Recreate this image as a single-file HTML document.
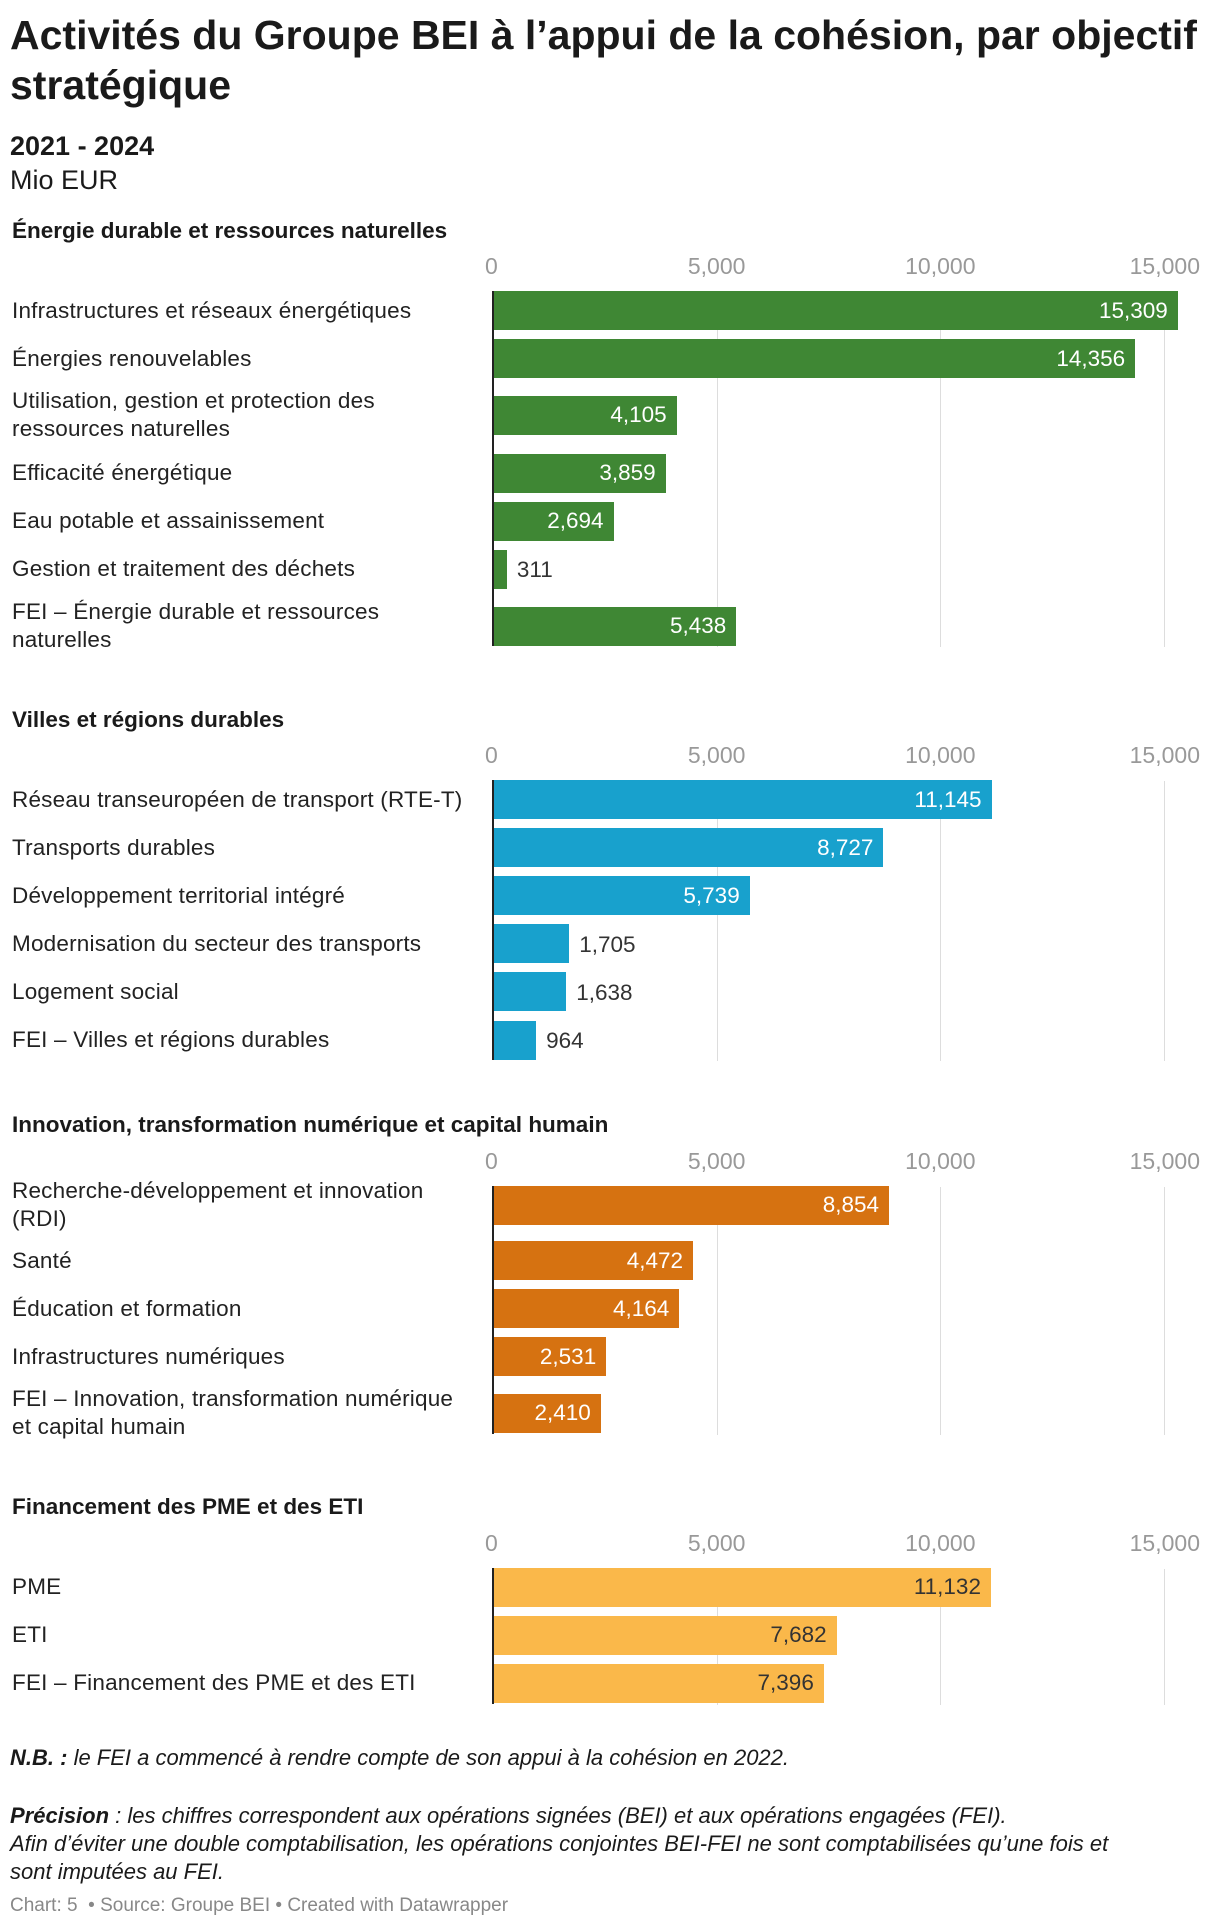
<!DOCTYPE html>
<html><head><meta charset="utf-8">
<style>
body{margin:0;background:#fff;}
#c{position:relative;width:1220px;height:1928px;font-family:"Liberation Sans",sans-serif;color:#1a1a1a;overflow:hidden}
.a{position:absolute;white-space:nowrap}
</style></head><body>
<div id="c">
<div class="a" style="left:10px;top:10px;font-size:41px;font-weight:bold;line-height:50px;letter-spacing:0px;white-space:normal;width:1210px">Activités du Groupe BEI à l’appui de la cohésion, par objectif stratégique</div>
<div class="a" style="left:10px;top:131px;font-size:27px;font-weight:bold">2021 - 2024</div>
<div class="a" style="left:10px;top:165px;font-size:27px">Mio EUR</div>
<div class="a" style="left:10px;top:1745px;font-size:22px;font-style:italic"><b>N.B. :</b> le FEI a commencé à rendre compte de son appui à la cohésion en 2022.</div>
<div class="a" style="left:10px;top:1802px;font-size:22px;font-style:italic;line-height:28px;white-space:normal;width:1120px"><b>Précision</b> : les chiffres correspondent aux opérations signées (BEI) et aux opérations engagées (FEI).<br>Afin d’éviter une double comptabilisation, les opérations conjointes BEI-FEI ne sont comptabilisées qu’une fois et sont imputées au FEI.</div>
<div class="a" style="left:10px;top:1895px;font-size:19px;color:#888">Chart: 5 &nbsp;• Source: Groupe BEI • Created with Datawrapper</div>
</div>
<script>
const ticks=[0,5000,10000,15000];
const tickLabels=["0","5,000","10,000","15,000"];
const cat1=["Infrastructures et réseaux énergétiques","Énergies renouvelables","Utilisation, gestion et protection des|ressources naturelles","Efficacité énergétique","Eau potable et assainissement","Gestion et traitement des déchets","FEI – Énergie durable et ressources|naturelles"];
const val1=[15309,14356,4105,3859,2694,311,5438];
const cat2=["Réseau transeuropéen de transport (RTE-T)","Transports durables","Développement territorial intégré","Modernisation du secteur des transports","Logement social","FEI – Villes et régions durables"];
const val2=[11145,8727,5739,1705,1638,964];
const cat3=["Recherche-développement et innovation|(RDI)","Santé","Éducation et formation","Infrastructures numériques","FEI – Innovation, transformation numérique|et capital humain"];
const val3=[8854,4472,4164,2531,2410];
const cat4=["PME","ETI","FEI – Financement des PME et des ETI"];
const val4=[11132,7682,7396];
const S=1.232;
const sections=[
 {title:"Énergie durable et ressources naturelles",cats:cat1,vals:val1,color:"#3f8734",ty:188,tk:217,cy:[253,292,338,385,424,463,509],end:525},
 {title:"Villes et régions durables",cats:cat2,vals:val2,color:"#18a1cd",ty:585,tk:614,cy:[650,689,728,767,806,845],end:861},
 {title:"Innovation, transformation numérique et capital humain",cats:cat3,vals:val3,color:"#d67211",ty:914,tk:943,cy:[979,1024,1063,1102,1148],end:1165},
 {title:"Financement des PME et des ETI",cats:cat4,vals:val4,color:"#fab84a",ty:1224,tk:1253,cy:[1289,1328,1367],end:1384}
];
const x0=493,x1=1164,xmax=15000;
const xs=v=>x0+(x1-x0)*v/xmax;
const C=document.getElementById('c');
function mk(css,txt){const d=document.createElement('div');d.className='a';d.style.cssText=css;if(txt!=null)d.innerHTML=txt;C.appendChild(d);return d;}
const BH=39;
sections.forEach((s,si)=>{
 const t=mk(`left:12px;top:${s.ty*S-14}px;font-size:22.5px;font-weight:bold`,s.title);
 
 
 const top=(s.cy[0]*S)-BH/2, bot=s.end*S;
 ticks.forEach((v,i)=>{
  const lb=mk(`left:${xs(v)-60}px;width:120px;text-align:center;top:${s.tk*S-14}px;font-size:23px;color:#999`,tickLabels[i]);
  
  
  if(i===0){lb.style.left=(xs(v)-8)+'px';lb.style.width='auto';}
  if(i===ticks.length-1){lb.style.left=(xs(v)-70)+'px';lb.style.width='106px';lb.style.textAlign='right';}
  if(i>0){const g=mk(`left:${xs(v)}px;top:${top}px;width:1px;height:${bot-top}px;background:#ddd`);
   
   }
 });
 s.vals.forEach((v,j)=>{
  const cy=s.cy[j]*S;
  const lines=s.cats[j].split('|');
  const lab=mk(`left:12px;top:${cy-lines.length*14-1}px;font-size:22.5px;line-height:28px;color:#222;letter-spacing:0.2px`,lines.join('<br>'));
  
  
  const w=xs(v)-x0;
  const b=mk(`left:${x0}px;top:${cy-BH/2-1}px;width:${w}px;height:${BH}px;background:${s.color}`);
  
  
  const txt=v.toLocaleString('en-US');
  const dark=s.color==="#fab84a";
  let vl;
  if(w>100){vl=mk(`left:${xs(v)-150}px;width:140px;text-align:right;top:${cy-14}px;font-size:22.5px;color:${dark?'#333':'#fff'}`,txt);}
  else{vl=mk(`left:${xs(v)+10}px;top:${cy-13}px;font-size:22.5px;color:#333`,txt);}
  
  
 });
 const ax=mk(`left:${x0-1}px;top:${top-1}px;width:2px;height:${bot-top}px;background:#222`);
 
 
});
</script>
</body></html>
